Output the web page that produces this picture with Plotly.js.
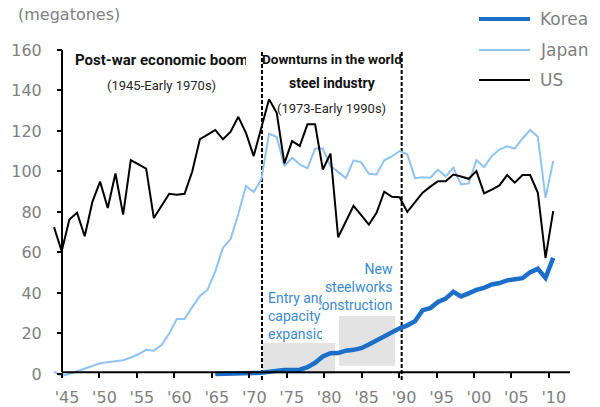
<!DOCTYPE html>
<html><head><meta charset="utf-8">
<script src="https://cdn.plot.ly/plotly-3.0.1.min.js"></script>
<style>html,body{margin:0;padding:0;background:#fff}#chart{width:600px;height:407px}</style>
</head><body><div id="chart"></div>
<script>
// ---- data (megatones of crude steel) ----
const years = [1945,1946,1947,1948,1949,1950,1951,1952,1953,1954,1955,1956,1957,1958,1959,
  1960,1961,1962,1963,1964,1965,1966,1967,1968,1969,1970,1971,1972,1973,1974,1975,1976,1977,
  1978,1979,1980,1981,1982,1983,1984,1985,1986,1987,1988,1989,1990,1991,1992,1993,1994,1995,
  1996,1997,1998,1999,2000,2001,2002,2003,2004,2005,2006,2007,2008,2009,2010];
const usValues = [72.5,60.6,76.3,79.6,68,85,95,82,99,78.7,105.6,103.5,101.4,77,83,
  89,88.5,89,100,116,118.2,120.5,115.9,119.7,127,119,107.6,121.7,135.7,129,104,115,112.6,
  123.3,123.3,101,108.8,67.5,75,83,78.4,73.8,79.6,90,87.5,87.3,80,85,89.5,92.5,95.2,
  95.2,98.5,97.5,96.4,100.2,89.2,91,93.1,98.2,94.5,98.2,98.2,89.5,57.3,80.4];
const japanValues = [1.1,-1,0,1.3,2.8,4.2,5.3,5.8,6.3,6.8,8.1,9.7,11.9,11.5,14.3,
  20,27.1,27.1,33,38.5,41.6,50.7,62.3,66.7,79,92.8,89.8,96.1,118.7,117,102.7,106.8,103.5,
  101.5,111.3,111.3,102.7,99.5,96.7,105.5,104.5,98.9,98.5,105.5,107.5,110.1,108.5,96.7,97.2,96.9,100.9,
  97.5,101.9,93.6,94.1,105.5,102.2,107.6,110.8,112.4,111.3,116.3,120.5,117.2,87,105.1];
const koreaYears = [1966,1967,1968,1969,1970,1971,1972,1973,1974,1975,1976,1977,
  1978,1979,1980,1981,1982,1983,1984,1985,1986,1987,1988,1989,1990,1991,1992,1993,1994,1995,
  1996,1997,1998,1999,2000,2001,2002,2003,2004,2005,2006,2007,2008,2009,2010];
const koreaValues = [0,0,0,0,0.5,0.5,0.6,1.2,1.8,2.0,2.0,2.1,
  3.3,5.5,8.6,10.2,10.3,11.5,11.9,12.7,14.5,16.5,19,21,22.5,24,26,31.5,32.5,35.5,
  37.2,40.6,38.3,39.8,41.5,42.5,44.2,44.9,46.2,46.8,47.3,50.2,51.9,47.4,57.3];
const tickYears = [1945,1950,1955,1960,1965,1970,1975,1980,1985,1990,1995,2000,2005,2010];
const tickLabels = ["'45","'50","'55","'60","'65","'70","'75","'80","'85","'90","'95","'00","'05","'10"];
const yTicks = [0,20,40,60,80,100,120,140,160];
const seriesNames = ['Korea','Japan','US'];

// ---- styles / geometry ----
const colors = {Korea:'#1c6fc8', Japan:'#8ec3f2', US:'#000000'};
const widths = {Korea:4.5, Japan:2, US:2};
const grey = '#808080';
const tickFont = {family:'DejaVu Sans, sans-serif', size:16, color:grey};
const annFont = 'Roboto, Liberation Sans, Arial, sans-serif';
const blueText = '#3b8ad8';

// In the source chart the category tick marks are spaced slightly tighter than the data points:
// data: 1945 at 54px, 7.68px/yr ; tick marks: '45 at 62px, 7.49px/yr
const dataPx0 = 54, dataPxPerYr = 7.68, tickPx0 = 62, tickPxPerYr = 7.49;
const tickPositions = tickYears.map(L => 1945 + (tickPx0 + tickPxPerYr*(L-1945) - dataPx0)/dataPxPerYr);

const yAxisPos = 12/520;              // y axis crosses at the '45 tick mark
const xAxisVal = 0.85;                // x axis line drawn just above zero
const yMin = -3, yMax = 160;
const xAxisPos = (xAxisVal - yMin)/(yMax - yMin);

const traces = [
  {x:years, y:japanValues, name:'Japan'},
  {x:years, y:usValues, name:'US'},
  {x:koreaYears, y:koreaValues, name:'Korea'}
].map(t => Object.assign(t, {type:'scatter', mode:'lines',
  line:{color:colors[t.name], width:widths[t.name]}, hoverinfo:'skip', showlegend:false}));

const shapes = [
  {type:'rect', xref:'x', yref:'y', x0:1972.17, x1:1981.6, y0:0, y1:15.3,
   fillcolor:'#e3e3e3', line:{width:0}, layer:'below'},
  {type:'rect', xref:'x', yref:'y', x0:1982.1, x1:1989.4, y0:4.0, y1:28.6,
   fillcolor:'#e3e3e3', line:{width:0}, layer:'below'},
  {type:'line', xref:'x', yref:'y', x0:1972.08, x1:1972.08, y0:-3, y1:160,
   line:{color:'#000', width:2, dash:'4px,2px'}, layer:'below'},
  {type:'line', xref:'x', yref:'y', x0:1990.27, x1:1990.27, y0:-3, y1:160,
   line:{color:'#000', width:2, dash:'4px,2px'}, layer:'below'},
  {type:'line', xref:'paper', yref:'y', x0:yAxisPos, x1:1, y0:xAxisVal, y1:xAxisVal,
   line:{color:'#000', width:2}, layer:'above'},
  {type:'line', xref:'paper', yref:'y', x0:yAxisPos, x1:yAxisPos, y0:xAxisVal, y1:160,
   line:{color:'#000', width:2}, layer:'above'}
];
const annotations = [
  {text:'(megatones)', xref:'paper', yref:'paper', x:-0.0654, y:1.109, xanchor:'left', yanchor:'middle',
   showarrow:false, font:{family:'DejaVu Sans, sans-serif', size:16, color:grey}},
  {text:'<b>Post-war economic boom</b>', xref:'paper', yref:'paper', x:0.04615, y:0.9697,
   xanchor:'left', yanchor:'middle', align:'left', width:171, borderpad:0, showarrow:false,
   font:{family:annFont, size:15, color:'#111'}},
  {text:'(1945-Early 1970s)', xref:'paper', yref:'paper', x:0.2135, y:0.8939, xanchor:'center', yanchor:'middle',
   showarrow:false, font:{family:annFont, size:13, color:'#262626'}},
  {text:'<b>Downturns in the world</b>', xref:'paper', yref:'paper', x:0.5423, y:0.9727, xanchor:'center', yanchor:'middle',
   showarrow:false, font:{family:annFont, size:13.5, color:'#111'}},
  {text:'<b>steel industry</b>', xref:'paper', yref:'paper', x:0.5442, y:0.9, xanchor:'center', yanchor:'middle',
   showarrow:false, font:{family:annFont, size:14, color:'#111'}},
  {text:'(1973-Early 1990s)', xref:'paper', yref:'paper', x:0.5404, y:0.8242, xanchor:'center', yanchor:'middle',
   showarrow:false, font:{family:annFont, size:13, color:'#262626'}},
  {text:'Entry and<br>capacity<br>expansion', xref:'paper', yref:'paper', x:0.4173, y:0.1939,
   xanchor:'left', yanchor:'middle', align:'left', width:54, borderpad:0, showarrow:false,
   font:{family:annFont, size:14, color:blueText}},
  {text:'New<br>steelworks<br>construction', xref:'paper', yref:'paper', x:0.6615, y:0.2818,
   xanchor:'right', yanchor:'middle', align:'right', width:74, borderpad:0, showarrow:false,
   font:{family:annFont, size:14, color:blueText}}
];
// legend drawn by hand so the sample lines match the source length
const legendY = [1.0939, 1.0, 0.9091];
seriesNames.forEach((n, i) => {
  shapes.push({type:'line', xref:'paper', yref:'paper', x0:0.825, x1:0.923, y0:legendY[i], y1:legendY[i],
    line:{color:colors[n], width:n==='Korea'?4:2}});
  annotations.push({text:n, xref:'paper', yref:'paper', x:0.9385, y:legendY[i], xanchor:'left', yanchor:'middle',
    showarrow:false, font:{family:'DejaVu Sans, sans-serif', size:17, color:grey}});
});

const layout = {
  width:600, height:407, margin:{l:50, r:30, t:50, b:27},
  paper_bgcolor:'#fff', plot_bgcolor:'#fff', showlegend:false, hovermode:false,
  xaxis:{range:[1944.479, 2012.1875], tickvals:tickPositions, ticktext:tickLabels,
    ticks:'outside', ticklen:5, tickwidth:2, tickcolor:'#000', showline:false, showgrid:false,
    zeroline:false, anchor:'free', position:xAxisPos, tickfont:tickFont,
    ticklabelstandoff:6, ticklabelshift:5},
  yaxis:{range:[yMin, yMax], tickvals:yTicks, ticks:'outside', ticklen:5, tickwidth:2, tickcolor:'#000',
    showline:false, showgrid:false, zeroline:false, anchor:'free', position:yAxisPos,
    tickfont:tickFont, ticklabelstandoff:12},
  shapes:shapes, annotations:annotations
};
Plotly.newPlot('chart', traces, layout, {staticPlot:true, displayModeBar:false});
</script></body></html>
